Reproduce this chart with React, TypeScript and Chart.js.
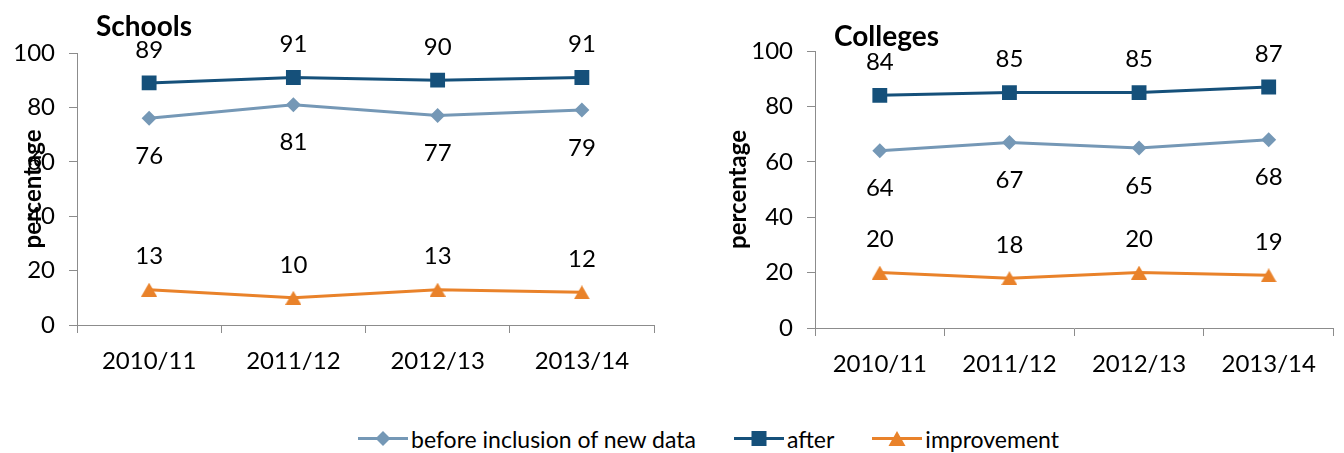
import React, { useEffect, useRef } from "react";
import { Chart, registerables } from "chart.js";

Chart.register(...registerables);

// ---- data ----
const years = ["2010/11", "2011/12", "2012/13", "2013/14"];
const seriesNames = ["before inclusion of new data", "after", "improvement"];

const schoolsBefore = [76, 81, 77, 79];
const schoolsAfter = [89, 91, 90, 91];
const schoolsImprovement = [13, 10, 13, 12];

const collegesBefore = [64, 67, 65, 68];
const collegesAfter = [84, 85, 85, 87];
const collegesImprovement = [20, 18, 20, 19];

const yMin = 0;
const yMax = 100;
const yStep = 20;

// ---- styling ----
const FONT = "Lato, 'Open Sans', sans-serif";
const BEFORE_COLOR = "#7598B6";
const AFTER_COLOR = "#15507A";
const IMPROVE_COLOR = "#E9822A";
const AXIS_COLOR = "#8C8C8C";

// triangle marker whose bounding box is centred on the point
function makeTriangleMarker(color: string): HTMLCanvasElement {
  const c = document.createElement("canvas");
  c.width = 16;
  c.height = 14;
  const g = c.getContext("2d") as CanvasRenderingContext2D;
  g.fillStyle = color;
  g.beginPath();
  g.moveTo(8, 0);
  g.lineTo(16, 14);
  g.lineTo(0, 14);
  g.closePath();
  g.fill();
  return c;
}

// value labels above / below each point
const valueLabels = {
  id: "valueLabels",
  afterDatasetsDraw(chart: any) {
    const ctx = chart.ctx;
    ctx.save();
    ctx.font = `24px ${FONT}`;
    ctx.fillStyle = "#000";
    ctx.textAlign = "center";
    ctx.textBaseline = "middle";
    chart.data.datasets.forEach((ds: any, i: number) => {
      const meta = chart.getDatasetMeta(i);
      const shift = ds.labelSide === "below" ? 38 : -33;
      meta.data.forEach((pt: any, j: number) => {
        ctx.fillText(String(ds.data[j]), pt.x, pt.y + shift);
      });
    });
    ctx.restore();
  },
};

// panel heading and rotated axis title
const panelText = {
  id: "panelText",
  afterDraw(chart: any, _args: any, opts: any) {
    const ctx = chart.ctx;
    const area = chart.chartArea;
    ctx.save();
    ctx.fillStyle = "#000";
    ctx.font = `bold 28px ${FONT}`;
    ctx.textAlign = "left";
    ctx.textBaseline = "alphabetic";
    ctx.fillText(opts.title, opts.titleX, opts.titleY);

    ctx.translate(opts.axisX, (area.top + area.bottom) / 2);
    ctx.rotate(-Math.PI / 2);
    ctx.font = `bold 24px ${FONT}`;
    ctx.textAlign = "center";
    ctx.textBaseline = "middle";
    ctx.fillText(opts.axisTitle, 0, 0);
    ctx.restore();
  },
};

type PanelCfg = {
  title: string;
  before: number[];
  after: number[];
  improvement: number[];
  left: number;
  width: number;
  height: number;
  yWidth: number;
  padTop: number;
  padRight: number;
  xHeight: number;
  titleX: number;
  titleY: number;
  axisX: number;
};

function Panel({ cfg }: { cfg: PanelCfg }) {
  const ref = useRef<HTMLCanvasElement>(null);

  useEffect(() => {
    const tickFont = { family: FONT, size: 24 };
    const chart = new Chart(ref.current as HTMLCanvasElement, {
      type: "line",
      data: {
        labels: years,
        datasets: [
          {
            label: seriesNames[0],
            data: cfg.before,
            borderColor: BEFORE_COLOR,
            backgroundColor: BEFORE_COLOR,
            borderWidth: 3,
            pointStyle: "rectRot",
            pointRadius: 7.5,
            pointBorderWidth: 0,
            tension: 0,
            labelSide: "below",
          } as any,
          {
            label: seriesNames[1],
            data: cfg.after,
            borderColor: AFTER_COLOR,
            backgroundColor: AFTER_COLOR,
            borderWidth: 3,
            pointStyle: "rect",
            pointRadius: 10.5,
            pointBorderWidth: 0,
            tension: 0,
            labelSide: "above",
          } as any,
          {
            label: seriesNames[2],
            data: cfg.improvement,
            borderColor: IMPROVE_COLOR,
            backgroundColor: IMPROVE_COLOR,
            borderWidth: 3,
            pointStyle: makeTriangleMarker(IMPROVE_COLOR),
            pointRadius: 8,
            pointBorderWidth: 0,
            tension: 0,
            labelSide: "above",
          } as any,
        ],
      },
      options: {
        animation: false,
        responsive: false,
        devicePixelRatio: 1,
        layout: {
          padding: { left: 0, top: cfg.padTop, right: cfg.padRight, bottom: 0 },
        },
        plugins: {
          legend: { display: false },
          tooltip: { enabled: false },
          panelText: {
            title: cfg.title,
            titleX: cfg.titleX,
            titleY: cfg.titleY,
            axisTitle: "percentage",
            axisX: cfg.axisX,
          },
        } as any,
        scales: {
          x: {
            type: "category",
            offset: true,
            grid: {
              drawOnChartArea: false,
              drawTicks: true,
              tickLength: 8,
              color: AXIS_COLOR,
              lineWidth: 1,
              offset: true,
            },
            border: { display: true, color: AXIS_COLOR, width: 1 },
            ticks: { font: tickFont, color: "#000", padding: 14, maxRotation: 0 },
            afterFit(scale: any) {
              scale.height = cfg.xHeight;
              scale.paddingLeft = 0;
              scale.paddingRight = 0;
            },
          },
          y: {
            min: yMin,
            max: yMax,
            grid: {
              drawOnChartArea: false,
              drawTicks: true,
              tickLength: 8,
              color: AXIS_COLOR,
              lineWidth: 1,
            },
            border: { display: true, color: AXIS_COLOR, width: 1 },
            ticks: { stepSize: yStep, font: tickFont, color: "#000", padding: 14 },
            afterFit(scale: any) {
              scale.width = cfg.yWidth;
            },
          },
        },
      },
      plugins: [valueLabels, panelText],
    });
    return () => chart.destroy();
  }, [cfg]);

  return (
    <canvas
      ref={ref}
      width={cfg.width}
      height={cfg.height}
      style={{ position: "absolute", left: cfg.left, top: 0, width: cfg.width, height: cfg.height }}
    />
  );
}

const schoolsPanel: PanelCfg = {
  title: "Schools",
  before: schoolsBefore,
  after: schoolsAfter,
  improvement: schoolsImprovement,
  left: 0,
  width: 670,
  height: 400,
  yWidth: 77,
  padTop: 53,
  padRight: 16,
  xHeight: 75,
  titleX: 96,
  titleY: 36,
  axisX: 33,
};

const collegesPanel: PanelCfg = {
  title: "Colleges",
  before: collegesBefore,
  after: collegesAfter,
  improvement: collegesImprovement,
  left: 680,
  width: 664,
  height: 400,
  yWidth: 135,
  padTop: 51,
  padRight: 1,
  xHeight: 72,
  titleX: 154,
  titleY: 46,
  axisX: 58,
};

function LegendMarker({ color, shape }: { color: string; shape: string }) {
  let marker: React.ReactNode = null;
  if (shape === "diamond") {
    marker = <polygon points="25,2 32.5,9.5 25,17 17.5,9.5" fill={color} />;
  } else if (shape === "square") {
    marker = <rect x={17.5} y={2} width={15} height={15} fill={color} />;
  } else {
    marker = <polygon points="25,2 33.5,17 16.5,17" fill={color} />;
  }
  return (
    <svg width={50} height={20} style={{ display: "block" }}>
      <line x1={0} y1={9.5} x2={50} y2={9.5} stroke={color} strokeWidth={3} />
      {marker}
    </svg>
  );
}

function Legend() {
  const items = [
    { name: seriesNames[0], color: BEFORE_COLOR, shape: "diamond" },
    { name: seriesNames[1], color: AFTER_COLOR, shape: "square" },
    { name: seriesNames[2], color: IMPROVE_COLOR, shape: "triangle" },
  ];
  return (
    <div
      style={{
        position: "absolute",
        left: 358,
        top: 427,
        height: 24,
        display: "flex",
        alignItems: "center",
        gap: 38,
        fontFamily: FONT,
        fontSize: 23,
        color: "#000",
        whiteSpace: "nowrap",
      }}
    >
      {items.map((it) => (
        <div key={it.name} style={{ display: "flex", alignItems: "center", gap: 3 }}>
          <LegendMarker color={it.color} shape={it.shape} />
          <span style={{ lineHeight: "24px" }}>{it.name}</span>
        </div>
      ))}
    </div>
  );
}

export default function App() {
  return (
    <div
      style={{
        position: "absolute",
        left: 0,
        top: 0,
        width: 1344,
        height: 453,
        background: "#fff",
        overflow: "hidden",
      }}
    >
      <Panel cfg={schoolsPanel} />
      <Panel cfg={collegesPanel} />
      <Legend />
    </div>
  );
}
